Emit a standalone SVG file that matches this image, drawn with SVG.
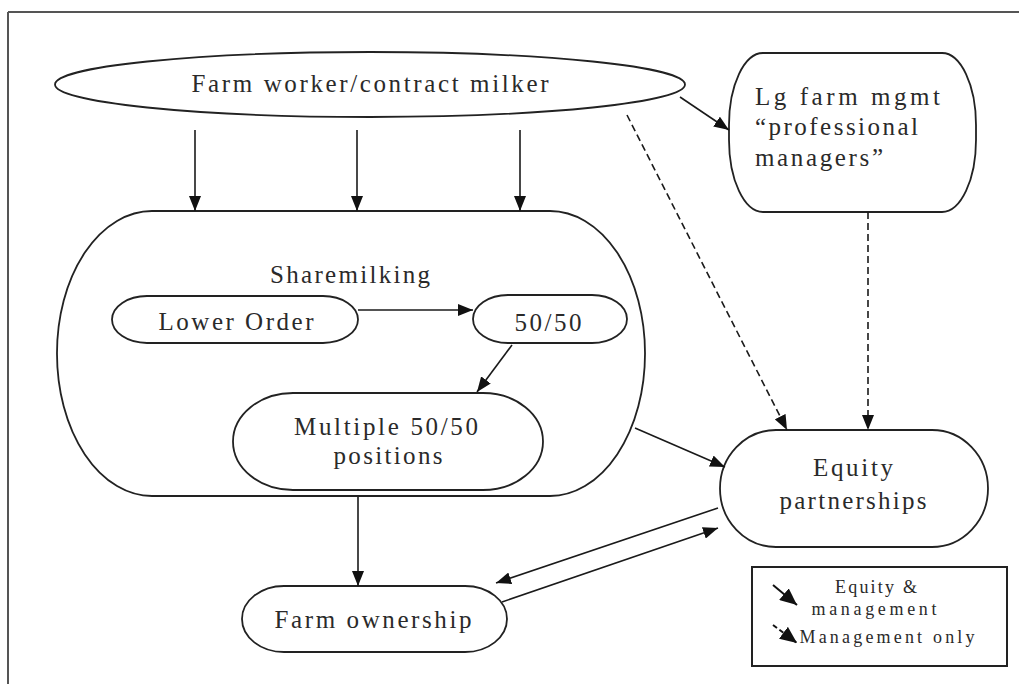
<svg xmlns="http://www.w3.org/2000/svg" width="1019" height="684" viewBox="0 0 1019 684">
  <defs>
    <style>
      .shape { fill: #ffffff; stroke: #222222; stroke-width: 1.8; }
      .lbl { font-family: "Liberation Serif", "Times New Roman", serif; font-size: 25px; fill: #2a2a2a; }
      .mid { text-anchor: middle; }
      .leg { font-family: "Liberation Serif", "Times New Roman", serif; font-size: 18px; fill: #2a2a2a; text-anchor: middle; }
      .conn { fill: none; stroke: #1a1a1a; stroke-width: 1.6; marker-end: url(#ah); }
      .dash { stroke-dasharray: 7 4; }
      .frame { stroke: #555555; stroke-width: 2; fill: none; }
    </style>
    <marker id="ah" markerWidth="15" markerHeight="12" refX="15" refY="6" orient="auto" markerUnits="userSpaceOnUse">
      <path d="M0,0 L15,6 L0,12 z" fill="#111111"/>
    </marker>
    <marker id="ahBig" markerWidth="17" markerHeight="15" refX="17" refY="7.5" orient="auto" markerUnits="userSpaceOnUse">
      <path d="M0,0 L17,7.5 L0,15 z" fill="#111111"/>
    </marker>
  </defs>

  <rect x="0" y="0" width="1019" height="684" fill="#ffffff"/>
  <g id="frame">
    <line class="frame" x1="8" y1="12" x2="1019" y2="12"/>
    <line class="frame" x1="8" y1="12" x2="8" y2="684"/>
  </g>

  <g id="node-farm-worker">
    <ellipse class="shape" cx="370" cy="84.5" rx="315" ry="32.5"/>
    <text class="lbl mid" x="370" y="92" textLength="357" lengthAdjust="spacing">Farm worker/contract milker</text>
  </g>

  <g id="node-lg-farm">
    <rect class="shape" x="729" y="53" width="247" height="159" rx="34" ry="72"/>
    <text class="lbl" x="755" y="105" textLength="185" lengthAdjust="spacing">Lg farm mgmt</text>
    <text class="lbl" x="755" y="135" textLength="163" lengthAdjust="spacing">“professional</text>
    <text class="lbl" x="755" y="166" textLength="128" lengthAdjust="spacing">managers”</text>
  </g>

  <g id="node-sharemilking">
    <rect class="shape" x="57" y="211" width="588" height="285" rx="95" ry="142"/>
    <text class="lbl mid" x="350" y="283" textLength="160" lengthAdjust="spacing">Sharemilking</text>
  </g>

  <g id="node-lower-order">
    <rect class="shape" x="112" y="296" width="246" height="47" rx="35" ry="23.5"/>
    <text class="lbl mid" x="236" y="330" textLength="155" lengthAdjust="spacing">Lower Order</text>
  </g>

  <g id="node-5050">
    <rect class="shape" x="473" y="295" width="154" height="48" rx="35" ry="24"/>
    <text class="lbl mid" x="548" y="331" textLength="67" lengthAdjust="spacing">50/50</text>
  </g>

  <g id="node-multiple">
    <rect class="shape" x="233" y="393" width="310" height="97" rx="60" ry="48.5"/>
    <text class="lbl mid" x="386" y="435" textLength="184" lengthAdjust="spacing">Multiple 50/50</text>
    <text class="lbl mid" x="388" y="464" textLength="109" lengthAdjust="spacing">positions</text>
  </g>

  <g id="node-equity">
    <rect class="shape" x="720" y="430" width="268" height="117" rx="56" ry="58.5"/>
    <text class="lbl mid" x="853" y="476" textLength="80" lengthAdjust="spacing">Equity</text>
    <text class="lbl mid" x="853" y="509" textLength="147" lengthAdjust="spacing">partnerships</text>
  </g>

  <g id="node-farm-ownership">
    <rect class="shape" x="242" y="586" width="265" height="66" rx="42" ry="33"/>
    <text class="lbl mid" x="373" y="628" textLength="197" lengthAdjust="spacing">Farm ownership</text>
  </g>

  <g id="connectors">
    <line class="conn" x1="195" y1="130" x2="195" y2="211"/>
    <line class="conn" x1="357" y1="130" x2="357" y2="211"/>
    <line class="conn" x1="520" y1="130" x2="520" y2="211"/>
    <line class="conn" x1="680" y1="97" x2="729" y2="130"/>
    <line class="conn dash" x1="627" y1="115" x2="787" y2="430"/>
    <line class="conn dash" x1="868" y1="212" x2="868" y2="430"/>
    <line class="conn" x1="358" y1="310" x2="473" y2="310"/>
    <line class="conn" x1="512" y1="345" x2="477" y2="392"/>
    <line class="conn" x1="635" y1="428" x2="725" y2="467"/>
    <line class="conn" x1="358" y1="497" x2="358" y2="586"/>
    <line class="conn" x1="718" y1="508" x2="496" y2="583"/>
    <line class="conn" x1="502" y1="602" x2="718" y2="528"/>
  </g>

  <g id="legend">
    <rect x="752" y="567" width="255" height="99" fill="#ffffff" stroke="#222222" stroke-width="2"/>
    <line x1="773" y1="585" x2="797" y2="605" stroke="#111111" stroke-width="2" marker-end="url(#ahBig)"/>
    <line x1="773" y1="625" x2="797" y2="643" stroke="#111111" stroke-width="2" stroke-dasharray="5 3" marker-end="url(#ahBig)"/>
    <text class="leg" x="876" y="593" textLength="82" lengthAdjust="spacing">Equity &amp;</text>
    <text class="leg" x="874" y="615" textLength="125" lengthAdjust="spacing">management</text>
    <text class="leg" x="887" y="643" textLength="175" lengthAdjust="spacing">Management only</text>
  </g>
</svg>
